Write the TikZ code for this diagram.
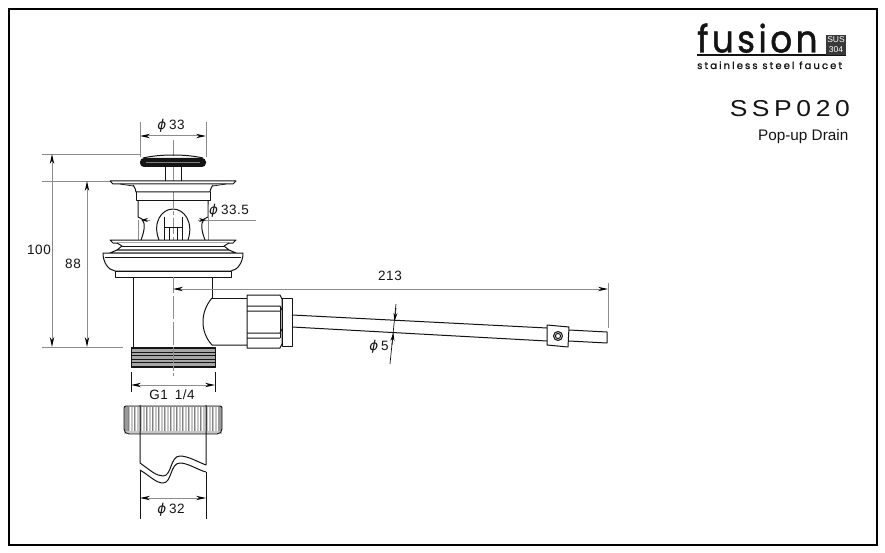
\documentclass[tikz,border=0pt]{standalone}
\usepackage{fontspec}
\setmainfont{Liberation Sans}
\newfontfamily\dimf[LetterSpace=4]{Liberation Sans}
\newfontfamily\phif{DejaVu Sans}
\newfontfamily\ssp[LetterSpace=20,FakeStretch=1.15]{Liberation Sans}
\newfontfamily\logo[LetterSpace=21,FakeBold=1]{Poppins}
\newfontfamily\logob[LetterSpace=9,FakeBold=1.2,FakeStretch=0.9]{Poppins}
\usetikzlibrary{arrows.meta}
\newcommand{\ph}{{\phif\itshape\fontsize{13.5}{14}\selectfont\char"03D5}\hspace{3pt}}
\definecolor{ink}{gray}{0.08}
\definecolor{dimg}{gray}{0.55}
\tikzset{
  ol/.style={draw=ink,line width=1pt,line join=round},
  thin ol/.style={draw=ink,line width=0.7pt},
  gl/.style={draw=dimg,line width=0.8pt},
  dl/.style={draw=dimg,line width=1pt,{Stealth[length=10pt,width=4.4pt,black]}-{Stealth[length=10pt,width=4.4pt,black]}},
  cl/.style={draw=dimg,line width=1pt,dash pattern=on 16pt off 3pt on 4pt off 3pt},
  lab/.style={font=\dimf\fontsize{13.5}{15}\selectfont,text=ink,inner sep=0pt},
}
\begin{document}
\begin{tikzpicture}[x=1pt,y=-1pt]
\useasboundingbox (0,0) rectangle (885,553);
\fill[white] (0,0) rectangle (885,553);
\draw[black,line width=1.4pt] (9,9) rectangle (877,545);
% centre line
\draw[cl] (173,140) -- (173,376);
% extension lines
\draw[gl] (42,154) -- (140,154);
\draw[gl] (42,181) -- (110,181);
\draw[gl] (42,347) -- (123,347);
\draw[gl] (140,122) -- (140,157);
\draw[gl] (206,122) -- (206,157);
% dims left
\draw[dl] (52,154) -- (52,347);
\draw[dl] (87,181) -- (87,347);
\node[lab] (d100) at (39,250) {100};
\node[lab] (d88) at (73,264) {88};
% phi33
\draw[dl] (140,136) -- (206,136);
\node[lab] (d33) at (171,126) {\ph 33};
% cap
\fill[ink,rounded corners=4pt] (140,158) rectangle (206,167);
\draw[gray,line width=0.6pt] (146,162.5) -- (200,162.5);
\draw[ol] (143,158) .. controls (160,154) and (186,154) .. (203,158);
\draw[thin ol] (165,167) -- (165,181) (181,167) -- (181,181);
% upper flange
\draw[ol,fill=white] (110,181) -- (236,181) -- (233,184) -- (113,184) -- cycle;
\draw[ol,fill=white] (133,185) .. controls (135,188) and (136,190) .. (136,192) -- (210,192) .. controls (210,190) and (211,188) .. (213,185);
\draw[thin ol] (120,184) -- (133,186) (226,184) -- (213,186);
\draw[ol] (136,192) -- (136,201) -- (210,201) -- (210,192);
% legs
\draw[ol] (138,201) -- (138,217) -- (142,219) .. controls (146,224) and (144,232) .. (141,240);
\draw[ol] (208,201) -- (208,217) -- (204,219) .. controls (200,224) and (202,232) .. (205,240);
% arch
\draw[ol] (159,240) .. controls (152,222) and (162,209) .. (173,209) .. controls (184,209) and (194,222) .. (188,240);
\draw[thin ol] (164,217) -- (164,240) (182,217) -- (182,240);
\draw[ol] (164,228) -- (182,228);
\draw[thin ol] (169,228) -- (169,240) (177,228) -- (177,240);
% phi33.5
\draw[gl] (200,220) -- (256,220);
\draw[gl] (138,220) -- (138,240) (208,205) -- (208,240);
\draw[-{Stealth[length=7pt,width=4pt,black]},draw=dimg,line width=.8pt] (150,220) -- (141,220);
\draw[-{Stealth[length=7pt,width=4pt,black]},draw=dimg,line width=.8pt] (198,220) -- (206,220);
\node[lab,anchor=west] (d335) at (209,211) {\ph 33.5};
% lower flange
\draw[ol,fill=white] (110,240) -- (236,240) -- (233,243) -- (113,243) -- cycle;
\draw[ol,fill=white] (117,243) -- (122,246) -- (117,250) -- (229,250) -- (224,246) -- (229,243);
\draw[thin ol] (122,246) -- (224,246);
\draw[ol,fill=white] (117,250) -- (229,250) -- (236,253) -- (110,253) -- cycle;
% bowl
\draw[ol,fill=white] (103,253) -- (243,253) .. controls (243,262) and (238,270) .. (231,271) -- (115,271) .. controls (108,270) and (103,262) .. (103,253) -- cycle;
\draw[thin ol] (105,257) -- (241,257);
\draw[ol,fill=white] (115,271) rectangle (231,277);
% body
\draw[ol] (133,277) -- (133,347);
\draw[ol] (212,277) -- (212,298);
\draw[ol] (212,298) -- (247,298);
\draw[ol] (212,298) .. controls (200,312) and (200,332) .. (212,345) -- (247,345);
\draw[cl] (173,277) -- (173,347);
% thread
\fill[gray!70] (131,347) rectangle (215,367);
\foreach \yy in {348.5,352,355.5,359,362.5,366}{\draw[ink,line width=0.8pt] (131,\yy) -- (215,\yy);}
\draw[ol] (131,347) rectangle (215,367);
\draw[cl] (173,347) -- (173,376);
% hex nut
\draw[ol,fill=white] (247,295) -- (280,295) -- (282,299) -- (282,344) -- (280,348) -- (247,348) -- cycle;
\draw[ol] (247,306) -- (280,306) -- (282,310) (247,311) -- (280,311);
\draw[ol] (247,333) -- (280,333) -- (282,329) (247,338) -- (280,338);
\draw[thin ol] (280,306) -- (280,338);
\draw[ol,fill=white] (282,298) rectangle (292,346);
% rod
\draw[ol] (292,315) -- (547,328) (292,327) -- (547,341);
\draw[ol,fill=white] (547,325) -- (569,327) -- (568,347) -- (547,345) -- cycle;
\draw[ol] (558,336) circle (4.5pt) (558,336) circle (2.6pt);
\draw[ol] (569,330) -- (607,332) -- (607,343) -- (569,341);
% 213
\draw[gl] (608,283) -- (608,328);
\draw[dl] (173,289) -- (608,289);
\node[lab] (d213) at (390,276) {213};
% phi 5
\draw[ink,line width=0.7pt] (396,304) -- (390,364);
\draw[-{Stealth[length=8pt,width=4pt,black]},ink,line width=.7pt] (396,308) -- (394.6,321);
\draw[-{Stealth[length=8pt,width=4pt,black]},ink,line width=.7pt] (392,345) -- (393.3,333);
\node[lab] (d5) at (379,347) {\ph 5};
% G1 1/4
\draw[thin ol] (131,372) -- (131,392) (215,372) -- (215,392);
\draw[dl] (131,385) -- (215,385);
\node[lab] (dg) at (172,395) {G1\hspace{7pt}1/4};
% lower nut
\fill[gray!45] (124,406) rectangle (222,434);
\foreach \xx in {127,130,...,220}{\draw[white,line width=0.8pt] (\xx,407) -- (\xx,431);}
\foreach \xx in {128.5,134.5,...,220}{\draw[gray,line width=0.8pt] (\xx,407) -- (\xx,431);}
\fill[gray!80] (124,406) rectangle (128,431) (218,406) rectangle (222,431);
\draw[ink,line width=0.85pt,rounded corners=2pt] (124,406) -- (124,431) -- (127,434) -- (219,434) -- (222,431) -- (222,406) -- cycle;
% pipe
\draw[ol] (140,405) -- (140,463) .. controls (150,470) and (156,476) .. (163,476) .. controls (172,476) and (170,456) .. (180,456) .. controls (188,456) and (198,462) .. (206,465) -- (206,405);
\draw[ol] (140,470) .. controls (150,476) and (156,483) .. (163,483) .. controls (172,483) and (170,463) .. (180,463) .. controls (188,463) and (198,470) .. (206,472);
\draw[ol] (140,470) -- (140,519) (206,472) -- (206,519);
\draw[dl] (140,498) -- (206,498);
\node[lab] (d32) at (171,510) {\ph 32};
% logo
\node[anchor=base west,inner sep=0pt,text=ink,font=\logob\fontsize{38}{38}\selectfont] (fus) at (697,52.5) {fusion};
\draw[ink,line width=2pt] (697,55) -- (846,55);
\fill[ink!85] (826,35) rectangle (846,55);
\node[inner sep=0pt,text=white,font=\fontsize{8.5}{8.5}\selectfont] (sus) at (836,40) {SUS};
\node[inner sep=0pt,text=white,font=\fontsize{8.5}{8.5}\selectfont] (n304) at (836,49.5) {304};
\node[anchor=base west,inner sep=0pt,text=ink,font=\logo\fontsize{10}{10}\selectfont] (tag) at (697,69) {stainless steel faucet};
\node[anchor=base east,inner sep=0pt,text=ink,font=\ssp\fontsize{23}{23}\selectfont] (model) at (850,117) {SSP020};
\node[anchor=base east,inner sep=0pt,text=ink,font=\fontsize{15.3}{16}\selectfont] (pop) at (848.5,141) {Pop-up Drain};
\end{tikzpicture}
\end{document}
